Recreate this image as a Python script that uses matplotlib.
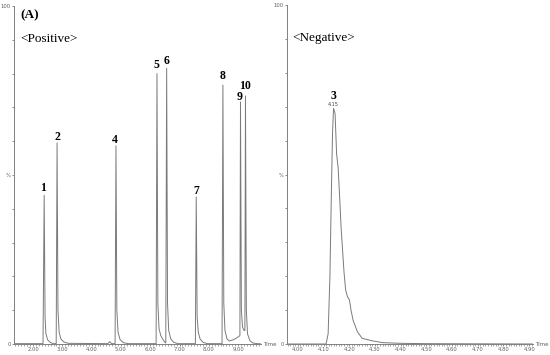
import matplotlib
matplotlib.use("Agg")
import matplotlib.pyplot as plt
from matplotlib.ticker import MultipleLocator

plt.rcParams.update(
    {
        "font.family": "DejaVu Sans",
        "font.size": 4,
        "axes.edgecolor": "#808080",
        "xtick.color": "#606060",
        "ytick.color": "#606060",
    }
)

# positive mode TIC (time in min, relative intensity %)
pos_time = [1.35, 2.34, 2.38, 2.41, 2.44, 2.50, 2.60, 2.70,
            2.79, 2.82, 2.85, 2.89, 2.95, 3.05, 3.20,
            4.55, 4.62, 4.68,
            4.80, 4.83, 4.86, 4.90, 4.97, 5.08, 5.25,
            6.20, 6.23, 6.26, 6.30, 6.36, 6.42, 6.50,
            6.53, 6.56, 6.59, 6.63, 6.70, 6.80, 6.95,
            7.54, 7.57, 7.60, 7.64, 7.70, 7.80, 7.95,
            8.45, 8.48, 8.51, 8.55, 8.62, 8.70, 8.85, 9.02,
            9.06, 9.08, 9.11, 9.15, 9.20,
            9.23, 9.25, 9.28, 9.32, 9.40, 9.50, 9.65, 9.78]
pos_int = [0.1, 0.1, 44.0, 8.0, 3.0, 1.2, 0.4, 0.1,
           0.1, 59.5, 10.0, 3.5, 1.5, 0.6, 0.2,
           0.1, 0.7, 0.1,
           0.1, 58.6, 10.0, 3.5, 1.3, 0.4, 0.1,
           0.1, 80.0, 12.0, 4.5, 2.5, 1.5, 0.5,
           0.3, 81.6, 12.0, 4.0, 1.5, 0.5, 0.1,
           0.1, 43.5, 8.0, 3.5, 1.5, 0.5, 0.1,
           0.1, 76.6, 12.0, 4.0, 1.5, 0.9, 1.3, 2.2,
           2.5, 71.6, 10.0, 5.0, 4.0,
           4.0, 73.4, 10.0, 3.0, 1.0, 0.3, 0.1, 0.05]

# negative mode TIC
neg_time = [3.958, 4.110, 4.118, 4.125, 4.130, 4.135, 4.139, 4.145,
            4.151, 4.157, 4.163, 4.169, 4.180, 4.186, 4.193, 4.201,
            4.207, 4.215, 4.232, 4.250, 4.285, 4.330, 4.400, 4.500, 4.915]
neg_int = [0.0, 0.0, 3.0, 20.0, 42.0, 62.0, 69.5, 68.0,
           56.0, 52.0, 43.0, 33.6, 21.0, 16.0, 14.0, 13.0,
           10.0, 7.0, 3.6, 1.7, 1.0, 0.4, 0.2, 0.1, 0.0]

# peak labels
pos_labels = ["1", "2", "4", "5", "6", "7", "8", "9", "10"]
pos_label_t = [2.35, 2.82, 4.79, 6.21, 6.56, 7.58, 8.47, 9.06, 9.25]
pos_label_y = [46.1, 61.3, 60.5, 82.5, 83.7, 45.3, 79.3, 73.2, 76.3]
neg_labels = ["3"]
neg_label_t = [4.139]
neg_label_y = [73.2]
neg_rt = "4.15"

fig = plt.figure(figsize=(5.5, 3.55), dpi=100)
ax1 = fig.add_axes([14 / 550, 11 / 355, 247 / 550, 338 / 355])
ax2 = fig.add_axes([287 / 550, 11 / 355, 246 / 550, 339 / 355])

line_kw = dict(color="#7a7a7a", lw=0.7)
ax1.plot(pos_time, pos_int, **line_kw)
ax2.plot(neg_time, neg_int, **line_kw)

serif = ["Liberation Serif", "DejaVu Serif"]

for ax, xlim, major, minor in [
    (ax1, (1.35, 9.78), 1.0, 0.1),
    (ax2, (3.958, 4.915), 0.1, 0.01),
]:
    ax.set_xlim(*xlim)
    ax.set_ylim(0, 100)
    ax.spines["top"].set_visible(False)
    ax.spines["right"].set_visible(False)
    ax.spines["left"].set_linewidth(0.7)
    ax.spines["bottom"].set_linewidth(0.7)
    ax.xaxis.set_major_locator(MultipleLocator(major))
    ax.xaxis.set_minor_locator(MultipleLocator(minor))
    ax.xaxis.set_major_formatter(plt.FormatStrFormatter("%.2f"))
    ax.set_yticks(range(0, 101, 10))
    ax.set_yticklabels(["0", "", "", "", "", "%", "", "", "", "", "100"])
    ax.tick_params(axis="both", which="major", length=1.5, width=0.5, pad=0.8, labelsize=3.8)
    ax.tick_params(axis="x", which="minor", length=1.2, width=0.4)
    ax.text(1.01, 0, "Time", transform=ax.transAxes, fontsize=4, color="#606060",
            ha="left", va="center")

ax1.text(1.58, 97.3, "(A)", family=serif, fontsize=9.5, fontweight="bold", ha="left", va="center")
ax1.text(1.58, 90.2, "<Positive>", family=serif, fontsize=9.5, ha="left", va="center")
ax2.text(3.978, 90.2, "<Negative>", family=serif, fontsize=9.5, ha="left", va="center")

for lab, t, y in zip(pos_labels, pos_label_t, pos_label_y):
    ax1.text(t, y, lab, family=serif, fontsize=8.5, fontweight="bold", ha="center", va="center")
for lab, t, y in zip(neg_labels, neg_label_t, neg_label_y):
    ax2.text(t, y, lab, family=serif, fontsize=8.5, fontweight="bold", ha="center", va="center")
ax2.text(neg_label_t[0], 70.6, neg_rt, fontsize=3.5, color="#404040", ha="center", va="center")

fig.savefig("out.png", dpi=100)
